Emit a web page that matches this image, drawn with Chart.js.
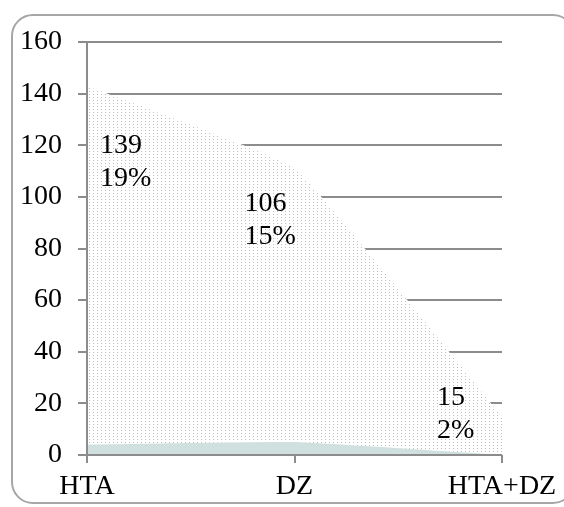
<!DOCTYPE html>
<html><head><meta charset="utf-8">
<script src="https://cdn.jsdelivr.net/npm/chart.js@4"></script>
<style>
html,body{margin:0;padding:0;background:#fff;}
#wrap{position:relative;width:564px;height:507px;overflow:hidden;}
#frame{position:absolute;left:11px;top:14px;width:564px;height:490px;border:2px solid #a6a6a6;border-radius:22px;box-sizing:border-box;}
canvas{position:absolute;left:0;top:0;}
</style></head><body>
<div id="wrap"><div id="frame"></div><canvas id="c" width="564" height="507"></canvas></div>
<script>
const categories = ['HTA', 'DZ', 'HTA+DZ'];
const baseSeries = [4, 5, 0];
const mainSeries = [139, 106, 15];
const percentLabels = ['19%', '15%', '2%'];
const yMin = 0, yMax = 160, yStep = 20;

// dotted fill pattern
const pc = document.createElement('canvas');
pc.width = 4; pc.height = 3;
const pctx = pc.getContext('2d');
pctx.fillStyle = '#ffffff'; pctx.fillRect(0, 0, 4, 3);
pctx.fillStyle = '#f6b07c'; pctx.fillRect(1, 1, 1, 1);
const ctx = document.getElementById('c').getContext('2d');
const dotPattern = ctx.createPattern(pc, 'repeat');

const FONT = '"Liberation Serif", "Times New Roman", serif';
const AXIS = '#8c8c8c';

const overlay = {
  id: 'overlay',
  afterDatasetsDraw(chart) {
    const {ctx, chartArea: a, scales: {x, y}} = chart;
    ctx.save();
    ctx.strokeStyle = AXIS; ctx.lineWidth = 2;
    ctx.beginPath();
    ctx.moveTo(a.left, a.top); ctx.lineTo(a.left, a.bottom); ctx.lineTo(a.right, a.bottom);
    ctx.stroke();
    const dx = [13, -50, -65];
    const dy = [60, 35, -19];
    ctx.font = '28px ' + FONT;
    ctx.fillStyle = '#000';
    ctx.textAlign = 'left'; ctx.textBaseline = 'middle';
    mainSeries.forEach((v, i) => {
      const px = x.getPixelForValue(i) + dx[i];
      const py = y.getPixelForValue(v + baseSeries[i]) + dy[i];
      ctx.fillText(String(v), px, py);
      ctx.fillText(percentLabels[i], px, py + 33);
    });
    ctx.restore();
  }
};

new Chart(ctx, {
  type: 'line',
  data: {
    labels: categories,
    datasets: [
      { data: baseSeries, fill: 'origin', backgroundColor: '#cfe0df', borderWidth: 0, pointRadius: 0, tension: 0.1 },
      { data: mainSeries, fill: '-1', backgroundColor: dotPattern, borderWidth: 0, pointRadius: 0, tension: 0.1 }
    ]
  },
  options: {
    responsive: false,
    animation: false,
    events: [],
    layout: { padding: { left: 0, top: 42, right: 62, bottom: 0 } },
    plugins: { legend: { display: false }, tooltip: { enabled: false } },
    scales: {
      x: {
        type: 'category', offset: false,
        grid: { drawOnChartArea: false, drawTicks: true, tickLength: 8, color: AXIS, lineWidth: 2 },
        border: { display: false },
        ticks: { font: { family: FONT, size: 28 }, color: '#000', padding: 7, maxRotation: 0, autoSkip: false },
        afterFit(s) { s.height = 52; }
      },
      y: {
        stacked: true, min: yMin, max: yMax,
        grid: { color: AXIS, lineWidth: 2, tickLength: 9 },
        border: { display: false },
        ticks: { stepSize: yStep, font: { family: FONT, size: 28 }, color: '#000', padding: 16 },
        afterFit(s) { s.width = 87; }
      }
    }
  },
  plugins: [overlay]
});
</script>
</body></html>
